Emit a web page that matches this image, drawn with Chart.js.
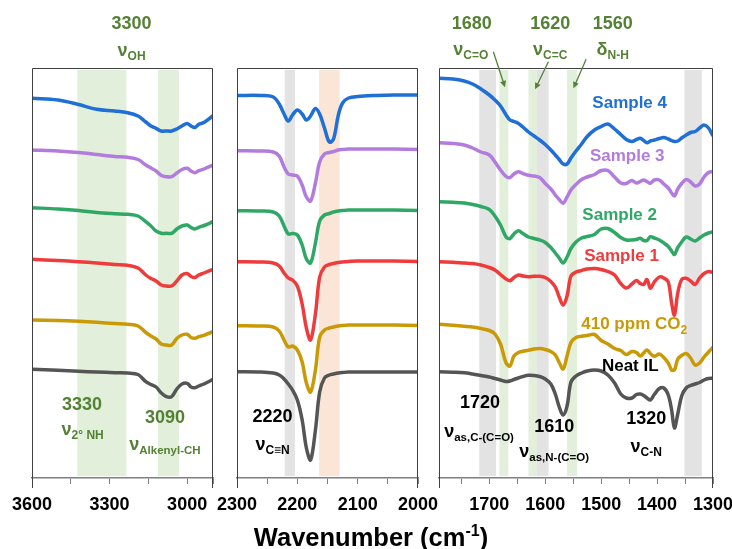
<!DOCTYPE html>
<html>
<head>
<meta charset="utf-8">
<title>FTIR spectra</title>
<script src="https://cdn.jsdelivr.net/npm/chart.js@4.4.1/dist/chart.umd.min.js"></script>
<style>
  html, body { margin: 0; padding: 0; background: #fff; }
  #wrap { position: relative; width: 732px; height: 549px; overflow: hidden; }
  #wrap canvas { position: absolute; left: 0; top: 0; }
  #xtitle {
    position: absolute; left: 0; width: 742px; top: 525px;
    text-align: center; font: bold 25.5px "Liberation Sans", Arial, sans-serif; line-height: 25px;
  }
  #xtitle sup { font-size: 16px; vertical-align: 10px; line-height: 0; }
</style>
</head>
<body>
<div id="wrap">
  <canvas id="panelOH" width="732" height="549"></canvas>
  <canvas id="panelCN" width="732" height="549"></canvas>
  <canvas id="panelFP" width="732" height="549"></canvas>
  <div id="xtitle">Wavenumber (cm<sup>-1</sup>)</div>
</div>
<script>
// series, top to bottom
const seriesNames = ['Sample 4', 'Sample 3', 'Sample 2', 'Sample 1', '410 ppm CO2', 'Neat IL'];

// 3600-2900 cm-1 window
const ohWavenumbers = [3600, 3500, 3420, 3350, 3280, 3230, 3190, 3160, 3140, 3120, 3100, 3080, 3060, 3040, 3020, 3000, 2985, 2970, 2955, 2935, 2900];
const ohSample4 = [401.7, 400, 395.5, 390.7, 389, 387.3, 384, 378, 374, 371.7, 369, 369, 369, 371, 374, 376.5, 374, 372.5, 375.7, 377.5, 384.3];
const ohSample3 = [350, 349, 347.5, 345.5, 343.5, 342.7, 340.5, 335, 332, 329, 324.5, 323.3, 323.3, 327, 330.5, 331.7, 329, 327.3, 329.3, 331, 335];
const ohSample2 = [292.3, 291, 289.5, 287.5, 286.3, 285.7, 284, 278.3, 274, 269, 266.7, 266.7, 266.7, 271, 274, 275, 272.5, 271, 272.7, 274.5, 278.3];
const ohSample1 = [240.7, 239.5, 238.3, 237, 235.5, 234.7, 232, 225, 221.5, 219, 215, 214, 214, 219, 225, 226.5, 223.5, 222.5, 225, 227, 230.7];
const ohCO2 = [180, 179.5, 178.7, 177.7, 176.5, 175.7, 174, 167.5, 164, 161, 156, 155, 155, 161.5, 165, 165.7, 162.5, 161.7, 163.3, 164.7, 168.3];
const ohNeat = [130.7, 129.7, 128.7, 128, 127.3, 127, 125.5, 118.3, 115.5, 113, 107, 103.3, 103.3, 111, 116, 116.7, 113, 112.3, 114, 116, 120.7];

// 2300-2000 cm-1 window
const cnWavenumbers = [2300, 2260, 2240, 2230, 2222, 2215, 2208, 2200, 2192, 2185, 2178, 2170, 2163, 2155, 2147, 2140, 2132, 2125, 2115, 2100, 2070, 2040, 2000];
const cnSample4 = [404.5, 404.5, 403, 396, 386, 379, 385, 390, 386, 380, 384, 391.5, 386, 372, 358, 361, 385, 397, 402, 403.5, 404.5, 405, 405];
const cnSample3 = [349.3, 349, 348, 344, 333, 326, 325, 324, 315, 303, 299, 317, 338, 346, 347.5, 348.5, 350, 350.5, 351, 351, 351, 351, 350.5];
const cnSample2 = [289.3, 289, 288, 284, 274, 266, 266.5, 265, 255, 241, 237, 257, 279, 285, 286.5, 288, 289, 289.5, 290, 290, 290, 290, 289.5];
const cnSample1 = [238.3, 238, 237, 234, 227, 222, 220, 214, 196, 172, 160, 186, 223, 233, 235.5, 236.5, 237.5, 238, 238.5, 239, 239, 239, 238.5];
const cnCO2 = [174.3, 174, 173, 169, 160, 153, 154, 150, 138, 117, 108, 130, 163, 170, 172, 173, 174, 174.5, 175, 175, 175, 175, 174.5];
const cnNeat = [128.3, 128, 127, 125, 121, 116, 110, 100, 80, 52, 40, 70, 108, 122, 125, 126, 127, 127.5, 128, 128, 128, 128, 128];

// 1790-1300 cm-1 window
const fpWavenumbers = [1790, 1765, 1745, 1730, 1715, 1700, 1690, 1680, 1670, 1663, 1656, 1648, 1640, 1630, 1620, 1610, 1600, 1590, 1582, 1575, 1568, 1561, 1554, 1545, 1535, 1525, 1512, 1500, 1488, 1476, 1465, 1455, 1445, 1437, 1430, 1424, 1418, 1412, 1405, 1396, 1388, 1380, 1374, 1369, 1363, 1356, 1348, 1340, 1332, 1324, 1316, 1308, 1300];
const fpSample4 = [421.7, 421, 419, 416, 411, 405, 400, 394, 385, 380, 378.5, 376.5, 373, 368, 364, 360, 355.5, 350, 345, 340.5, 336, 336, 342, 349, 356, 363.5, 370, 373.5, 376, 371, 365.5, 360.5, 358.5, 360.5, 361.7, 359.5, 357.3, 359, 360, 361.5, 362.5, 361, 359.5, 358.5, 359, 362, 365, 367.5, 368.5, 372, 375, 372, 364];
const fpSample3 = [357.3, 356.5, 355, 352, 348, 345, 338, 330, 323.5, 322.5, 326, 328.3, 326.5, 324.7, 324, 322.5, 316.5, 311, 305, 300.5, 296.7, 303, 310, 315.5, 320.5, 323, 325.5, 329.5, 329.5, 323, 317, 316.5, 319.5, 317, 318.5, 320, 318.5, 316.7, 320, 320, 316, 312, 307, 304, 311, 316.5, 320.5, 318, 314, 316, 323, 327.5, 328.3];
const fpSample2 = [298.3, 297.7, 297, 295.5, 293.5, 290.5, 284, 275, 263, 261.5, 266, 269.3, 266.5, 263, 261.5, 260, 257.5, 252.5, 247, 242, 237, 243, 251.5, 258, 262, 263.5, 265.5, 271, 271.5, 267.5, 262.5, 260, 260, 260.5, 261.7, 259.5, 259.5, 263.3, 262, 260, 257, 253.5, 249, 245.5, 252.5, 258, 263, 261, 259, 262, 265, 267, 268.3];
const fpSample1 = [238.3, 237.7, 237, 236.5, 235, 232.5, 230, 225.5, 221, 219.3, 222.5, 225, 224, 223.3, 223.7, 223.8, 222.5, 218.5, 213, 203, 195, 204, 224, 228, 229.5, 231, 231.5, 230.5, 228.5, 225, 216.5, 212, 216, 219.5, 216.5, 215.5, 220.5, 211.7, 218, 223, 222, 218, 197, 185, 207, 220.5, 221.7, 219, 215.5, 222, 226.5, 228.5, 227.3];
const fpCO2 = [175.7, 174.7, 173.8, 173, 171.5, 169.5, 166, 156, 137, 134, 144, 147.5, 148.7, 149.7, 151, 151.5, 150.5, 148.5, 145, 137.5, 131, 144, 157.5, 162.5, 163.7, 164.5, 165.5, 159.5, 156, 151.5, 149.5, 145.5, 148.5, 147.5, 144, 147, 150, 146.5, 143.7, 146, 142.5, 137, 130, 130, 141, 144.5, 146.5, 142, 135, 137, 143, 148, 152.7];
const fpNeat = [128.3, 127.8, 127.2, 126, 124.5, 123, 121.5, 120, 118.5, 119, 120.5, 122, 123.5, 124.7, 124.5, 123.5, 121, 116, 106, 93, 85, 94, 118, 124, 127, 129, 130, 129, 125, 117, 106, 102, 102, 105.5, 106, 104.5, 102, 100, 105.5, 111.5, 112, 105, 90, 72, 86, 104, 112, 114.5, 116, 117.5, 120, 121.5, 121.7];

// axis ticks (marks) and the ones that carry a label
const ohTicks = [3600, 3450, 3300, 3150, 3000, 2900];
const ohTickLabels = [3600, 3300, 3000];
const cnTicks = [2300, 2250, 2200, 2150, 2100, 2050, 2000];
const cnTickLabels = [2300, 2200, 2100, 2000];
const fpTicks = [1790, 1750, 1700, 1650, 1600, 1550, 1500, 1450, 1400, 1350, 1300];
const fpTickLabels = [1700, 1600, 1500, 1400, 1300];

const FONT = '"Liberation Sans", Arial, sans-serif';
const GREEN_TEXT = '#548235';
const colors = ['#1f6fd6', '#b27cde', '#2fa866', '#ef3b3b', '#c99a06', '#555555'];
const BAND_GREEN = '#e2efda', BAND_GRAY = '#e3e3e3', BAND_ORANGE = '#fbe5d6';

Chart.defaults.font.family = FONT;

// shaded regions behind the spectra
const bandPlugin = {
    id: 'bands',
    beforeDatasetsDraw(chart, args, opts) {
        const {ctx, chartArea: a, scales: {x}} = chart;
        ctx.save();
        for (const b of opts.items || []) {
            const x1 = x.getPixelForValue(b.from);
            const x2 = x.getPixelForValue(b.to);
            ctx.fillStyle = b.color;
            ctx.fillRect(Math.min(x1, x2), a.top + 2, Math.abs(x2 - x1), a.bottom - a.top - 4);
        }
        ctx.restore();
    }
};

// plot frame; side lines run a little past the axis like the original
const framePlugin = {
    id: 'frame',
    afterDatasetsDraw(chart) {
        const {ctx, chartArea: a} = chart;
        ctx.save();
        ctx.strokeStyle = '#404040';
        ctx.lineWidth = 1;
        ctx.beginPath();
        ctx.moveTo(a.left + 0.5, a.bottom + 10);
        ctx.lineTo(a.left + 0.5, a.top + 0.5);
        ctx.lineTo(a.right - 0.5, a.top + 0.5);
        ctx.lineTo(a.right - 0.5, a.bottom + 10);
        ctx.stroke();
        ctx.restore();
    }
};

function drawText(ctx, px, py, item) {
    const mainFont = `bold ${item.size || 18}px ${FONT}`;
    const subFont = `bold ${item.subSize || 12}px ${FONT}`;
    ctx.font = mainFont;
    const w1 = ctx.measureText(item.text).width;
    let w2 = 0;
    if (item.sub) {
        ctx.font = subFont;
        w2 = ctx.measureText(item.sub).width;
    }
    const left = px - (w1 + w2) / 2;
    ctx.fillStyle = item.color || GREEN_TEXT;
    ctx.textAlign = 'left';
    ctx.textBaseline = 'middle';
    ctx.font = mainFont;
    ctx.fillText(item.text, left, py);
    if (item.sub) {
        ctx.font = subFont;
        ctx.fillText(item.sub, left + w1, py + (item.subShift || 6));
    }
}

// peak assignments, series names and arrows, placed in data units
const notePlugin = {
    id: 'notes',
    afterDraw(chart, args, opts) {
        const {ctx, scales: {x, y}} = chart;
        ctx.save();
        for (const a of opts.arrows || []) {
            const x1 = x.getPixelForValue(a.from[0]), y1 = y.getPixelForValue(a.from[1]);
            const x2 = x.getPixelForValue(a.to[0]), y2 = y.getPixelForValue(a.to[1]);
            const ang = Math.atan2(y2 - y1, x2 - x1);
            ctx.strokeStyle = GREEN_TEXT;
            ctx.fillStyle = GREEN_TEXT;
            ctx.lineWidth = 1.3;
            ctx.beginPath();
            ctx.moveTo(x1, y1);
            ctx.lineTo(x2 - 4 * Math.cos(ang), y2 - 4 * Math.sin(ang));
            ctx.stroke();
            ctx.beginPath();
            ctx.moveTo(x2, y2);
            ctx.lineTo(x2 - 7 * Math.cos(ang - 0.45), y2 - 7 * Math.sin(ang - 0.45));
            ctx.lineTo(x2 - 7 * Math.cos(ang + 0.45), y2 - 7 * Math.sin(ang + 0.45));
            ctx.closePath();
            ctx.fill();
        }
        for (const t of opts.items || []) {
            drawText(ctx, x.getPixelForValue(t.at[0]), y.getPixelForValue(t.at[1]), t);
        }
        ctx.restore();
    }
};

/**
 * Builds one panel of the broken wavenumber axis.
 */
function makePanel(id, p) {
    const datasets = p.values.map((vals, i) => ({
        label: seriesNames[i],
        data: p.wavenumbers.map((wn, j) => ({x: wn, y: vals[j]})),
        borderColor: colors[i],
        borderWidth: 3.5,
        pointRadius: 0,
        tension: 0.35,
        fill: false
    }));
    return new Chart(document.getElementById(id), {
        type: 'line',
        data: {datasets},
        options: {
            responsive: false,
            animation: false,
            devicePixelRatio: 1,
            layout: {autoPadding: false, padding: {left: p.left, right: p.right, top: 68, bottom: 0}},
            scales: {
                x: {
                    type: 'linear',
                    reverse: true,
                    min: p.min,
                    max: p.max,
                    afterFit: (scale) => {
                        // keep the plot edges where the padding puts them
                        scale.height = 71;
                        scale.paddingLeft = 0;
                        scale.paddingRight = 0;
                    },
                    afterBuildTicks: (scale) => { scale.ticks = p.ticks.map(v => ({value: v})); },
                    grid: {drawOnChartArea: false, drawTicks: true, tickLength: 6, color: '#7f7f7f', lineWidth: 1},
                    border: {display: true, color: '#7f7f7f', width: 1.5},
                    ticks: {
                        autoSkip: false,
                        maxRotation: 0,
                        padding: 10,
                        color: '#000',
                        font: {size: 18, weight: 'bold', family: FONT},
                        callback: (v) => p.tickLabels.includes(v) ? String(v) : ''
                    }
                },
                y: {display: false, min: 22, max: 432}
            },
            plugins: {
                legend: {display: false},
                tooltip: {enabled: false},
                bands: {items: p.bands},
                notes: {items: p.notes, arrows: p.arrows || []}
            }
        },
        plugins: [bandPlugin, framePlugin, notePlugin]
    });
}

makePanel('panelOH', {
    wavenumbers: ohWavenumbers,
    values: [ohSample4, ohSample3, ohSample2, ohSample1, ohCO2, ohNeat],
    min: 2900, max: 3600, left: 32, right: 519,
    ticks: ohTicks, tickLabels: ohTickLabels,
    bands: [
        {from: 3425, to: 3235, color: BAND_GREEN},
        {from: 3113, to: 3032, color: BAND_GREEN}
    ],
    notes: [
        {at: [3215, 475.7], text: '3300'},
        {at: [3215, 449], text: 'ν', sub: 'OH'},
        {at: [3407, 95], text: '3330'},
        {at: [3404, 70], text: 'ν', sub: '2° NH'},
        {at: [3086, 81.7], text: '3090'},
        {at: [3086, 55], text: 'ν', sub: 'Alkenyl-CH', subSize: 11.5}
    ]
});

makePanel('panelCN', {
    wavenumbers: cnWavenumbers,
    values: [cnSample4, cnSample3, cnSample2, cnSample1, cnCO2, cnNeat],
    min: 2000, max: 2300, left: 237, right: 314,
    ticks: cnTicks, tickLabels: cnTickLabels,
    bands: [
        {from: 2221, to: 2204, color: BAND_GRAY},
        {from: 2164, to: 2130, color: BAND_ORANGE}
    ],
    notes: [
        {at: [2241, 82.7], text: '2220', color: '#000'},
        {at: [2241, 55], text: 'ν', sub: 'C≡N', color: '#000'}
    ]
});

makePanel('panelFP', {
    wavenumbers: fpWavenumbers,
    values: [fpSample4, fpSample3, fpSample2, fpSample1, fpCO2, fpNeat],
    min: 1300, max: 1790, left: 439, right: 19,
    ticks: fpTicks, tickLabels: fpTickLabels,
    bands: [
        {from: 1718, to: 1688, color: BAND_GRAY},
        {from: 1682, to: 1666, color: BAND_GREEN},
        {from: 1630, to: 1615, color: BAND_GREEN},
        {from: 1615, to: 1594, color: BAND_GRAY},
        {from: 1561, to: 1543, color: BAND_GREEN},
        {from: 1351, to: 1320, color: BAND_GRAY}
    ],
    arrows: [
        {from: [1692.8, 448.3], to: [1671.9, 412.7]},
        {from: [1594.4, 438.3], to: [1618.2, 410.7]},
        {from: [1526.9, 440.7], to: [1549.6, 411.7]}
    ],
    notes: [
        {at: [1731.5, 476], text: '1680'},
        {at: [1733, 450], text: 'ν', sub: 'C=O'},
        {at: [1591, 476], text: '1620'},
        {at: [1591, 450], text: 'ν', sub: 'C=C'},
        {at: [1479.4, 476], text: '1560'},
        {at: [1479.4, 450], text: 'δ', sub: 'N-H'},
        {at: [1449, 396.7], text: 'Sample 4', size: 17, color: colors[0]},
        {at: [1453.4, 343.3], text: 'Sample 3', size: 17, color: colors[1]},
        {at: [1466.9, 285], text: 'Sample 2', size: 17, color: colors[2]},
        {at: [1463.6, 244], text: 'Sample 1', size: 17, color: colors[3]},
        {at: [1440.9, 175.7], text: '410 ppm CO', sub: '2', size: 17, color: colors[4]},
        {at: [1448, 133.3], text: 'Neat IL', size: 17, color: '#000'},
        {at: [1716.7, 96.7], text: '1720', color: '#000'},
        {at: [1718.4, 68], text: 'ν', sub: 'as,C-(C=O)', subSize: 11.5, color: '#000'},
        {at: [1584, 73.3], text: '1610', color: '#000'},
        {at: [1584, 48], text: 'ν', sub: 'as,N-(C=O)', subSize: 11.5, color: '#000'},
        {at: [1419.4, 80.7], text: '1320', color: '#000'},
        {at: [1419.4, 53], text: 'ν', sub: 'C-N', color: '#000'}
    ]
});
</script>
</body>
</html>
